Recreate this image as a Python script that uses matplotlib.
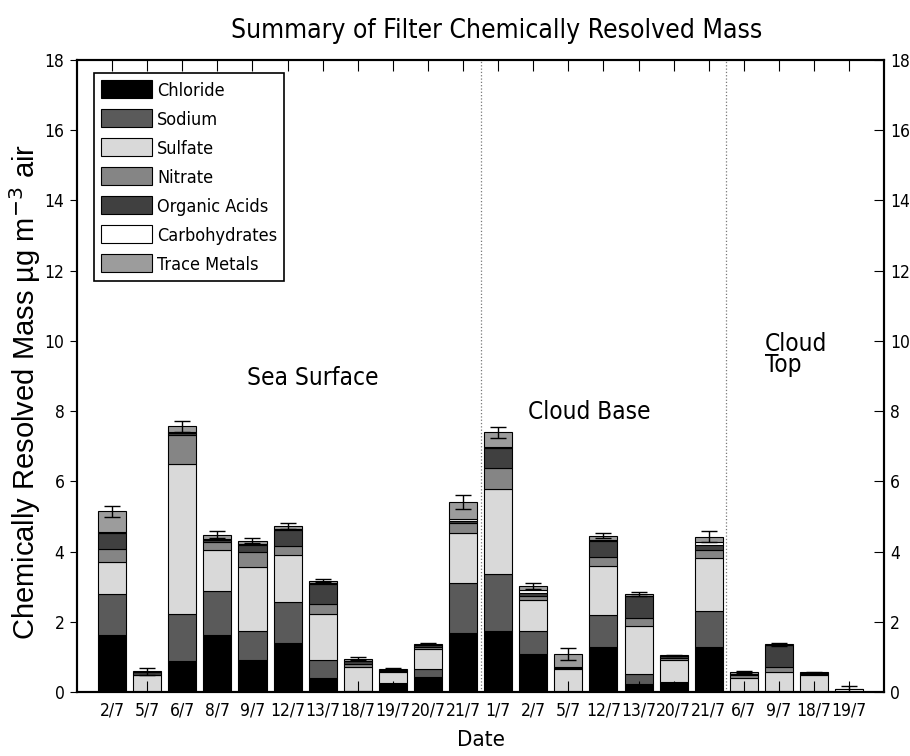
import matplotlib
matplotlib.use("Agg")
import matplotlib.pyplot as plt
from matplotlib import font_manager
import numpy as np

# look for a narrow Helvetica-like face, else fall back to Liberation Sans
NARROW = None
for f in font_manager.fontManager.ttflist:
    if 'Narrow' in f.name and 'Liberation' in f.name and f.style == 'normal' and f.weight in (400, 'normal', 'regular'):
        NARROW = f.fname
if NARROW is None:
    for f in font_manager.fontManager.ttflist:
        if f.name in ('DejaVu Sans', 'Roboto', 'Noto Sans', 'Open Sans') and str(f.stretch) in ('condensed', 'semi-condensed', '75', '87') \
                and f.style == 'normal' and f.weight in (400, 'normal', 'regular'):
            NARROW = f.fname
            break
if NARROW is not None:
    nfont = lambda size: font_manager.FontProperties(fname=NARROW, size=size)
    squeeze = 1.0
else:
    nfont = lambda size: font_manager.FontProperties(family='Liberation Sans', size=size)
    squeeze = 0.88
REG = 'Liberation Sans'

dates = ['2/7', '5/7', '6/7', '8/7', '9/7', '12/7', '13/7', '18/7', '19/7', '20/7', '21/7',
         '1/7', '2/7', '5/7', '12/7', '13/7', '20/7', '21/7',
         '6/7', '9/7', '18/7', '19/7']

chloride = [1.64, 0.00, 0.90, 1.63, 0.91, 1.41, 0.41, 0.02, 0.25, 0.43, 1.70,
            1.74, 1.10, 0.00, 1.29, 0.23, 0.26, 1.28,
            0.00, 0.00, 0.00, 0.00]
sodium = [1.15, 0.00, 1.32, 1.24, 0.82, 1.15, 0.51, 0.02, 0.02, 0.23, 1.41,
          1.63, 0.65, 0.00, 0.90, 0.29, 0.02, 1.04,
          0.00, 0.00, 0.00, 0.00]
sulfate = [0.93, 0.48, 4.27, 1.18, 1.85, 1.35, 1.31, 0.69, 0.30, 0.57, 1.42,
           2.41, 0.89, 0.65, 1.40, 1.36, 0.64, 1.51,
           0.40, 0.57, 0.49, 0.00]
nitrate = [0.36, 0.02, 0.83, 0.23, 0.40, 0.26, 0.29, 0.08, 0.03, 0.05, 0.28,
           0.59, 0.10, 0.03, 0.25, 0.22, 0.05, 0.21,
           0.10, 0.16, 0.03, 0.00]
organic = [0.44, 0.07, 0.07, 0.06, 0.22, 0.45, 0.57, 0.07, 0.04, 0.07, 0.07,
           0.59, 0.10, 0.04, 0.47, 0.65, 0.05, 0.14,
           0.03, 0.61, 0.03, 0.02]
carbs = [0.03, 0.00, 0.03, 0.02, 0.02, 0.02, 0.02, 0.02, 0.00, 0.00, 0.05,
         0.02, 0.06, 0.00, 0.02, 0.00, 0.00, 0.10,
         0.00, 0.00, 0.00, 0.06]
metals = [0.60, 0.03, 0.15, 0.12, 0.10, 0.09, 0.07, 0.06, 0.02, 0.03, 0.49,
          0.42, 0.12, 0.37, 0.13, 0.05, 0.03, 0.15,
          0.05, 0.03, 0.02, 0.00]
errs = [0.15, 0.10, 0.16, 0.10, 0.07, 0.08, 0.05, 0.03, 0.02, 0.02, 0.20,
        0.16, 0.08, 0.16, 0.07, 0.05, 0.02, 0.16,
        0.03, 0.04, 0.02, 0.10]

labels = ['Chloride', 'Sodium', 'Sulfate', 'Nitrate', 'Organic Acids', 'Carbohydrates', 'Trace Metals']
colors = ['#000000', '#5a5a5a', '#d9d9d9', '#858585', '#404040', '#ffffff', '#9c9c9c']
series = [chloride, sodium, sulfate, nitrate, organic, carbs, metals]

x = np.arange(1, len(dates) + 1)

fig = plt.figure(figsize=(9.1, 7.56), dpi=100)
ax = fig.add_axes([0.0846, 0.0843, 0.8871, 0.8364])

bottom = np.zeros(len(dates))
for vals, c, lab in zip(series, colors, labels):
    ax.bar(x, vals, 0.8, bottom=bottom, color=c, edgecolor='black', linewidth=0.8, label=lab)
    bottom += np.array(vals)

ax.errorbar(x, bottom, yerr=errs, fmt='none', ecolor='black', elinewidth=1, capsize=5.5, capthick=1)

# site separators
for xs in [11.5, 18.5]:
    ax.plot([xs, xs], [0, 18], linestyle=':', color='#777777', linewidth=0.9)

ax.set_xlim(0, 23)
ax.set_ylim(0, 18)
ax.set_xticks(x)
ax.set_xticklabels(dates, fontproperties=nfont(12.5 * squeeze))
ax.set_yticks(range(0, 19, 2))
ax.set_yticklabels([str(v) for v in range(0, 19, 2)], fontproperties=nfont(12.5 * squeeze))
ax.tick_params(axis='x', direction='in', top=True, bottom=True, length=8, pad=7)
ax.tick_params(axis='y', direction='out', left=True, length=5, pad=4)

ax2 = ax.twinx()
ax2.set_ylim(0, 18)
ax2.set_yticks(range(0, 19, 2))
ax2.set_yticklabels([str(v) for v in range(0, 19, 2)], fontproperties=nfont(12.5 * squeeze))
ax2.tick_params(axis='y', direction='in', length=7, pad=4)

for a in (ax, ax2):
    for s in a.spines.values():
        s.set_linewidth(1.5)

fig.text(497 / 910, 1 - 31 / 756, 'Summary of Filter Chemically Resolved Mass',
         fontproperties=nfont(19 * squeeze), ha='center', va='center')
ax.set_xlabel('Date', fontproperties=nfont(16 * squeeze), labelpad=7)
ax.set_ylabel('Chemically Resolved Mass \u00b5g m$^{-3}$ air', family=REG, fontsize=21)
ax.yaxis.set_label_coords(-0.042, 0.475)

ax.text(6.72, 8.95, 'Sea Surface', fontproperties=nfont(17.5 * squeeze), ha='center', va='center')
ax.text(14.6, 7.98, 'Cloud Base', fontproperties=nfont(17.5 * squeeze), ha='center', va='center')
ax.text(19.6, 9.62, 'Cloud\nTop', fontproperties=nfont(17.5 * squeeze), ha='left', va='center', linespacing=0.85)

leg = ax.legend(loc='upper left', bbox_to_anchor=(0.021, 0.979), prop=nfont(13 * squeeze),
                frameon=True, fancybox=False, edgecolor='black', framealpha=1,
                handlelength=2.8, handleheight=1.15, labelspacing=0.55, handletextpad=0.3,
                borderpad=0.4, borderaxespad=0)
leg.get_frame().set_linewidth(1.2)

fig.savefig('out.png', dpi=100)
